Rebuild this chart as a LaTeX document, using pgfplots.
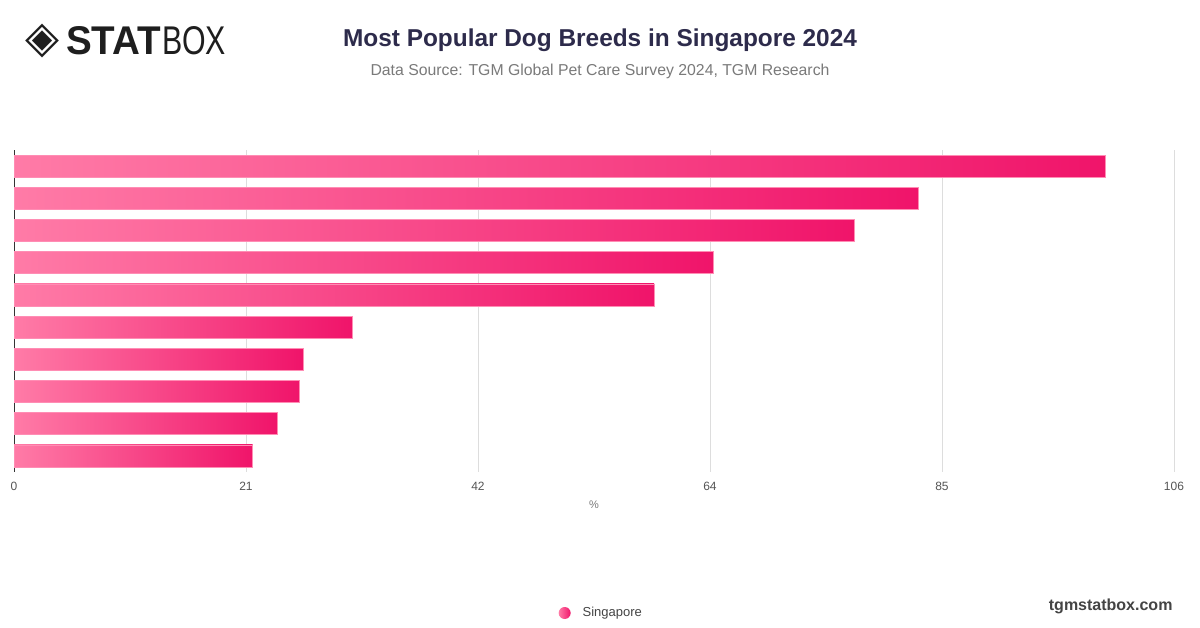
\documentclass[border=0pt]{standalone}
\usepackage{pgfplots}
\pgfplotsset{compat=1.18}
\usepackage{fontspec}
\setmainfont{Liberation Sans}
\newfontfamily\djv{DejaVu Sans}
\definecolor{barL}{HTML}{FF7BA7}
\definecolor{barR}{HTML}{F0146A}
\definecolor{barE}{HTML}{FF8DB4}
\definecolor{titlec}{HTML}{2D2B4B}
\definecolor{subc}{HTML}{7A7A7A}
\definecolor{tickc}{HTML}{555555}
\definecolor{gridc}{HTML}{DDDDDD}
\definecolor{logoc}{HTML}{1E1E1E}
\definecolor{legc}{HTML}{444444}

\begin{document}
\begin{tikzpicture}[x=1pt,y=1pt]
\path[use as bounding box, fill=white] (0,0) rectangle (1200,628);
% title and subtitle
\node[font=\bfseries\fontsize{24.4}{28}\selectfont, text=titlec] at (600,588) {Most Popular Dog Breeds in Singapore 2024};
\node[font=\fontsize{15.8}{19}\selectfont, text=subc] at (600,557) {Data Source: TGM Global Pet Care Survey 2024, TGM Research};
% logo
\node[inner sep=0pt, text=logoc] at (42.5,587) {\resizebox{34pt}{!}{\djv ◈}};
\node[inner sep=0pt, anchor=west, text=logoc] at (66,587) {\resizebox{95pt}{28pt}{\bfseries STAT}};
\node[inner sep=0pt, anchor=west, text=logoc] at (162,587) {\resizebox{64pt}{28pt}{BOX}};
% footer
\node[font=\bfseries\fontsize{16}{19}\selectfont, text=legc, anchor=east] at (1176,22) {tgmstatbox.com};

\begin{axis}[
  at={(14pt,156pt)}, anchor=south west,
  scale only axis, width=1160pt, height=322pt,
  xmin=0, xmax=106, ymin=-0.5, ymax=9.5,
  ytick=\empty,
  xtick={0,21.2,42.4,63.6,84.8,106},
  xticklabels={0,21,42,64,85,106},
  /pgf/number format/assume math mode=true,
  xticklabel style={font=\fontsize{12}{14}\selectfont, text=tickc, anchor=center, yshift=-14pt},
  major tick length=0pt,
  xmajorgrids, grid style={draw=gridc, line width=0.8pt},
  axis lines*=left,
  x axis line style={draw=none},
  y axis line style={draw=black!80, line width=1pt},
  xlabel={\%},
  xlabel style={at={(axis description cs:0.5,-0.1025)}, anchor=center, font=\fontsize{11}{13}\selectfont, text=subc},
  legend style={at={(axis description cs:0.5106,-0.4379)}, anchor=center, draw=none, fill=none,
     font=\fontsize{13}{15}\selectfont, text=legc, nodes={inner xsep=12pt}},
  legend cell align=left,
  legend image code/.code={\shade[draw=none, left color=barL, right color=barR] (3pt,0pt) circle (6pt);},
  mybar/.style={xbar, bar width=22pt, bar shift=0pt, draw=barE, line width=0.6pt, left color=barL, right color=barR, mark=none},
]
\addplot[mybar] coordinates {(99.7,9)};
\addlegendentry{Singapore}
\addplot[mybar, forget plot] coordinates {(82.6,8)};
\addplot[mybar, forget plot] coordinates {(76.8,7)};
\addplot[mybar, forget plot] coordinates {(63.9,6)};
\addplot[mybar, forget plot] coordinates {(58.5,5)};
\addplot[mybar, forget plot] coordinates {(30.9,4)};
\addplot[mybar, forget plot] coordinates {(26.4,3)};
\addplot[mybar, forget plot] coordinates {(26.1,2)};
\addplot[mybar, forget plot] coordinates {(24.1,1)};
\addplot[mybar, forget plot] coordinates {(21.8,0)};
\end{axis}
\end{tikzpicture}
\end{document}
